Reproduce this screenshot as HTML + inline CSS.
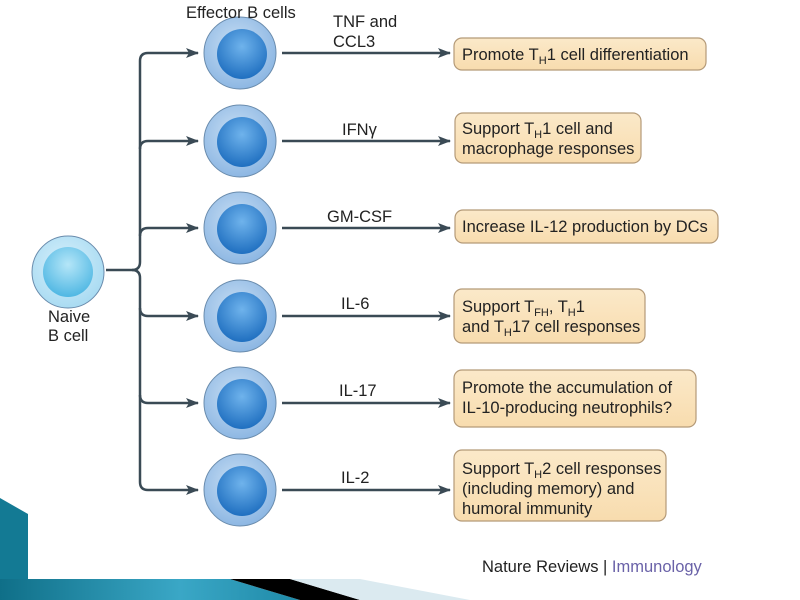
<!DOCTYPE html>
<html><head><meta charset="utf-8"><style>
html,body{margin:0;padding:0;background:#fff;}
svg{display:block;}
text{font-family:"Liberation Sans",sans-serif;fill:#222;font-size:16.5px;}
</style></head><body>
<svg width="800" height="600" viewBox="0 0 800 600" xmlns="http://www.w3.org/2000/svg">
<defs>
<radialGradient id="outer" cx="45%" cy="40%" r="60%"><stop offset="0" stop-color="#c9dff4"/><stop offset="1" stop-color="#8db7e3"/></radialGradient>
<radialGradient id="inner" cx="50%" cy="35%" r="65%"><stop offset="0" stop-color="#6fb3ec"/><stop offset="1" stop-color="#1f6fc0"/></radialGradient>
<radialGradient id="nout" cx="45%" cy="40%" r="60%"><stop offset="0" stop-color="#d8f0fb"/><stop offset="1" stop-color="#a9dbf2"/></radialGradient>
<radialGradient id="ninn" cx="50%" cy="35%" r="65%"><stop offset="0" stop-color="#b5e6f8"/><stop offset="1" stop-color="#4fb7e3"/></radialGradient>
<linearGradient id="box" x1="0" y1="0" x2="0" y2="1"><stop offset="0" stop-color="#fbe9c9"/><stop offset="1" stop-color="#f8dcae"/></linearGradient>
<linearGradient id="teal" x1="0" y1="0" x2="1" y2="0"><stop offset="0" stop-color="#0f6f88"/><stop offset="0.6" stop-color="#3aa7c6"/><stop offset="1" stop-color="#1f8aa8"/></linearGradient>
<marker id="ar" markerWidth="13" markerHeight="10" refX="12" refY="5" orient="auto" markerUnits="userSpaceOnUse"><path d="M0,0 L13,5 L0,10 L3,5 Z" fill="#3a4a55"/></marker>
</defs>
<polygon points="0,498 28,514 28,579 0,579" fill="#137a94"/>
<polygon points="0,579 230,579 300,600 0,600" fill="url(#teal)"/>
<polygon points="230,579 290,579 360,600 300,600" fill="#000"/>
<polygon points="290,579 360,579 470,600 360,600" fill="#dbeaf0"/>
<g stroke="#3a4a55" stroke-width="2.5" fill="none">
<path d="M106,270 H132 Q140,270 140,262 V61 Q140,53 148,53 H198" marker-end="url(#ar)"/>
<path d="M140,149 Q140,141 148,141 H198" marker-end="url(#ar)"/>
<path d="M140,236 Q140,228 148,228 H198" marker-end="url(#ar)"/>
<path d="M132,270 Q140,270 140,278 V482 Q140,490 148,490 H198" marker-end="url(#ar)"/>
<path d="M140,308 Q140,316 148,316 H198" marker-end="url(#ar)"/>
<path d="M140,395 Q140,403 148,403 H198" marker-end="url(#ar)"/>
<path d="M282,53 H450" marker-end="url(#ar)"/>
<path d="M282,141 H450" marker-end="url(#ar)"/>
<path d="M282,228 H450" marker-end="url(#ar)"/>
<path d="M282,316 H450" marker-end="url(#ar)"/>
<path d="M282,403 H450" marker-end="url(#ar)"/>
<path d="M282,490 H450" marker-end="url(#ar)"/>
</g>
<g stroke="#6a8cad" stroke-width="1">
<circle cx="68" cy="272" r="36" fill="url(#nout)"/>
<circle cx="68" cy="272" r="25" fill="url(#ninn)" stroke="none"/>
<circle cx="240" cy="53" r="36" fill="url(#outer)"/><circle cx="242" cy="54" r="25" fill="url(#inner)" stroke="none"/>
<circle cx="240" cy="141" r="36" fill="url(#outer)"/><circle cx="242" cy="142" r="25" fill="url(#inner)" stroke="none"/>
<circle cx="240" cy="228" r="36" fill="url(#outer)"/><circle cx="242" cy="229" r="25" fill="url(#inner)" stroke="none"/>
<circle cx="240" cy="316" r="36" fill="url(#outer)"/><circle cx="242" cy="317" r="25" fill="url(#inner)" stroke="none"/>
<circle cx="240" cy="403" r="36" fill="url(#outer)"/><circle cx="242" cy="404" r="25" fill="url(#inner)" stroke="none"/>
<circle cx="240" cy="490" r="36" fill="url(#outer)"/><circle cx="242" cy="491" r="25" fill="url(#inner)" stroke="none"/>
</g>
<g fill="url(#box)" stroke="#b49a78" stroke-width="1.2">
<rect x="454" y="38" width="252" height="32" rx="8"/>
<rect x="455" y="113" width="186" height="50" rx="8"/>
<rect x="455" y="210" width="263" height="33" rx="8"/>
<rect x="454" y="289" width="191" height="54" rx="8"/>
<rect x="454" y="370" width="242" height="57" rx="8"/>
<rect x="454" y="450" width="212" height="71" rx="8"/>
</g>
<text x="186" y="18">Effector B cells</text>
<text x="333" y="27">TNF and</text>
<text x="333" y="47">CCL3</text>
<text x="342" y="135">IFNγ</text>
<text x="327" y="222">GM-CSF</text>
<text x="341" y="309">IL-6</text>
<text x="339" y="396">IL-17</text>
<text x="341" y="483">IL-2</text>
<text x="48" y="322">Naive</text>
<text x="48" y="341">B cell</text>
<text x="462" y="60">Promote T<tspan font-size="11" dy="4">H</tspan><tspan dy="-4">1 cell differentiation</tspan></text>
<text x="462" y="134">Support T<tspan font-size="11" dy="4">H</tspan><tspan dy="-4">1 cell and</tspan></text>
<text x="462" y="154">macrophage responses</text>
<text x="462" y="232">Increase IL-12 production by DCs</text>
<text x="462" y="312">Support T<tspan font-size="11" dy="4">FH</tspan><tspan dy="-4">, T</tspan><tspan font-size="11" dy="4">H</tspan><tspan dy="-4">1</tspan></text>
<text x="462" y="332">and T<tspan font-size="11" dy="4">H</tspan><tspan dy="-4">17 cell responses</tspan></text>
<text x="462" y="393">Promote the accumulation of</text>
<text x="462" y="413">IL-10-producing neutrophils?</text>
<text x="462" y="474">Support T<tspan font-size="11" dy="4">H</tspan><tspan dy="-4">2 cell responses</tspan></text>
<text x="462" y="494">(including memory) and</text>
<text x="462" y="514">humoral immunity</text>
<text x="482" y="572" font-size="17">Nature Reviews | <tspan fill="#6a62a8">Immunology</tspan></text>
</svg>
</body></html>
